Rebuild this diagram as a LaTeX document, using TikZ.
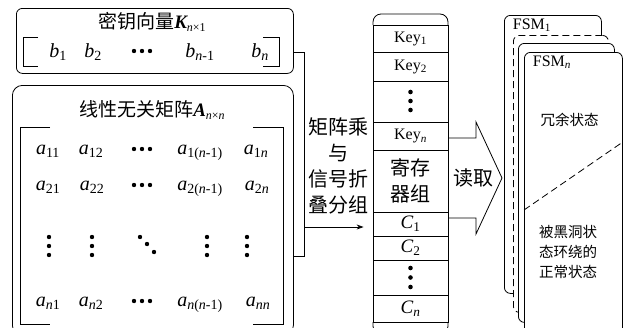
\documentclass[tikz,border=0pt]{standalone}
\usepackage{fontspec}
\setmainfont{Liberation Serif}
\newfontfamily\cjk{Noto Sans CJK SC}
\usetikzlibrary{arrows.meta}
\newcommand{\sbx}[1]{\textsubscript{#1}}
\begin{document}
\begin{tikzpicture}[x=1pt,y=-1pt,line width=0.8pt,
  cjkL/.style={font=\cjk\fontsize{19}{22}\selectfont, inner sep=0pt},
  cjkM/.style={font=\cjk\fontsize{20}{26}\selectfont, inner sep=0pt, align=center},
  cjkS/.style={font=\cjk\fontsize{14.5}{20}\selectfont, inner sep=0pt, align=center},
  mth/.style={font=\fontsize{20}{24}\selectfont, inner sep=0pt, anchor=base},
  keyf/.style={font=\fontsize{16}{18}\selectfont, inner sep=0pt},
  cf/.style={font=\fontsize{19}{22}\selectfont, inner sep=0pt},
  fsm/.style={font=\fontsize{16}{18}\selectfont, inner sep=0pt},
  cell/.style={draw, minimum width=75pt, inner sep=0pt},
  page/.style={draw, fill=white, rounded corners=6pt, anchor=north west, inner sep=0pt},
  dsh/.style={dash pattern=on 7pt off 4pt}
]
\useasboundingbox (0,0) rectangle (623,327);
\clip (0,0) rectangle (623,327);

% key vector box
\node[draw, rounded corners=6pt, anchor=north west, minimum width=277pt, minimum height=65pt, inner sep=0pt] (kbox) at (16,8) {};
\node[cjkL] (ktitle) at (152,22) {密钥向量{\rmfamily\bfseries\itshape K}{\rmfamily\fontsize{12}{12}\selectfont\raisebox{-3pt}{\textit{n}×1}}};
\draw (38,37) -- (23,37) -- (23,66) -- (38,66);
\draw (263,37) -- (279,37) -- (279,66) -- (263,66);
\node[mth] (b1) at (58,57) {\textit{b}\sbx{1}};
\node[mth] (b2) at (93,57) {\textit{b}\sbx{2}};
\foreach \x in {134,142,150} \fill (\x,51) circle (2.2);
\node[mth] (bn1) at (200,57) {\textit{b}\sbx{\textit{n}-1}};
\node[mth] (bn) at (260,57) {\textit{b}\sbx{\textit{n}}};

% matrix box
\node[draw, rounded corners=10pt, anchor=north west, minimum width=281pt, minimum height=250pt, inner sep=0pt] (abox) at (12,85) {};
\node[cjkL] (atitle) at (152,110) {线性无关矩阵{\rmfamily\bfseries\itshape A}{\rmfamily\fontsize{12}{12}\selectfont\raisebox{-3pt}{\textit{n}×\textit{n}}}};
\draw (50,127) -- (20,127) -- (20,324) -- (50,324);
\draw (253,127) -- (283,127) -- (283,324) -- (253,324);
% row 1
\node[mth] (a11) at (48,154) {\textit{a}\sbx{11}};
\node[mth] (a12) at (91,154) {\textit{a}\sbx{12}};
\foreach \x in {134,142,150} \fill (\x,149) circle (2.2);
\node[mth] (a1m) at (200,154) {\textit{a}\sbx{1(\textit{n}-1)}};
\node[mth] (a1n) at (256,154) {\textit{a}\sbx{1\textit{n}}};
% row 2
\node[mth] (a21) at (48,190) {\textit{a}\sbx{21}};
\node[mth] (a22) at (92,190) {\textit{a}\sbx{22}};
\foreach \x in {134,142,150} \fill (\x,185) circle (2.2);
\node[mth] (a2m) at (200,190) {\textit{a}\sbx{2(\textit{n}-1)}};
\node[mth] (a2n) at (257,190) {\textit{a}\sbx{2\textit{n}}};
% vertical dots
\foreach \x in {49,92,207,247} {\foreach \y in {237,246,255} \fill (\x,\y) circle (2.2);}
\fill (140,237) circle (2.2);
\fill (147,244) circle (2.2);
\fill (154,252) circle (2.2);
% row n
\node[mth] (an1) at (48,306) {\textit{a}\sbx{\textit{n}1}};
\node[mth] (an2) at (91,306) {\textit{a}\sbx{\textit{n}2}};
\foreach \x in {134,142,150} \fill (\x,301) circle (2.2);
\node[mth] (anm) at (200,306) {\textit{a}\sbx{\textit{n}(\textit{n}-1)}};
\node[mth] (ann) at (258,306) {\textit{a}\sbx{\textit{nn}}};

% register column
\draw[rounded corners=8pt] (373,25) -- (373,14) -- (448,14) -- (448,25);
\node[cell, minimum height=27pt] (k1) at (410.5,38.5) {};
\node[keyf] at (k1) {Key\sbx{1}};
\node[cell, minimum height=29pt] (k2) at (410.5,66.5) {};
\node[keyf] at (k2) {Key\sbx{2}};
\node[cell, minimum height=41pt] (kd) at (410.5,101.5) {};
\foreach \y in {92,101,110} \fill (410.5,\y) circle (2.3);
\node[cell, minimum height=28pt] (kn) at (410.5,136) {};
\node[keyf] at (kn) {Key\sbx{\textit{n}}};
\node[cell, minimum height=62pt] (rg) at (410.5,181) {};
\node[cjkM] at (rg) {寄存\\器组};
\node[cell, minimum height=24pt] (c1) at (410.5,224) {};
\node[cf] at (c1) {\textit{C}\sbx{1}};
\node[cell, minimum height=24pt] (c2) at (410.5,248) {};
\node[cf] at (c2) {\textit{C}\sbx{2}};
\node[cell, minimum height=35pt] (cd) at (410.5,277.5) {};
\foreach \y in {268,277.5,287} \fill (410.5,\y) circle (2.3);
\node[cell, minimum height=27pt] (cn) at (410.5,308.5) {};
\node[cf] at (cn) {\textit{C}\sbx{\textit{n}}};
\draw[rounded corners=8pt] (373,322) -- (373,334) -- (448,334) -- (448,322);

% connector
\coordinate (j1) at (304,52);
\coordinate (j2) at (304,256);
\coordinate (j3) at (304,227);
\draw (kbox.east |- j1) -- (j1) -- (j2) -- (abox.east |- j2);
\draw[-{Stealth[length=7pt,width=5pt]}] (j3) -- ([xshift=-9pt]c1.west |- j3);
\node[cjkM] (op) at (338.5,166) {矩阵乘\\与\\信号折\\叠分组};

% big read arrow
\draw (rg.east |- 0,138) -- (476,138) -- (476,122) -- (502,178) -- (476,234) -- (476,218) -- (rg.east |- 0,218);
\node[cjkM] (rd) at (473,178) {读取};

% FSM pages
\node[page, minimum width=97pt, minimum height=278pt] (p1) at (504,15) {};
\node[fsm] (f1) at (532,25) {FSM\sbx{1}};
\node[page, dsh, minimum width=95pt, minimum height=277pt] (pd) at (513,35) {};
\node[page, minimum width=96pt, minimum height=279pt] (p2) at (518,43) {};
\node[page, minimum width=98pt, minimum height=300pt] (p3) at (524,52) {};
\node[fsm] (fn) at (552,62) {FSM\sbx{\textit{n}}};
\draw[dsh] (p3.west |- 0,210) -- (p3.east |- 0,142);
\node[cjkS] (rs) at (569.5,120) {冗余状态};
\node[cjkS] (ns) at (568,252) {被黑洞状\\态环绕的\\正常状态};
\end{tikzpicture}
\end{document}
